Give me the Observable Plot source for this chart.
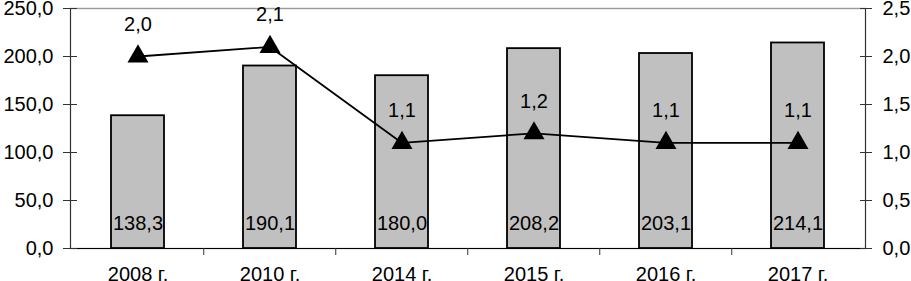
<!DOCTYPE html>
<html>
<head>
<meta charset="utf-8">
<script src="https://cdn.jsdelivr.net/npm/d3@7"></script>
<script src="https://cdn.jsdelivr.net/npm/@observablehq/plot@0.6"></script>
<style>
  html, body { margin: 0; padding: 0; background: #fff; }
  #chart svg { display: block; }
</style>
</head>
<body>
<div id="chart"></div>
<script>
const years = ["2008 г.", "2010 г.", "2014 г.", "2015 г.", "2016 г.", "2017 г."];
const barValues = [138.3, 190.1, 180.0, 208.2, 203.1, 214.1];
const lineValues = [2.0, 2.1, 1.1, 1.2, 1.1, 1.1];
const leftTicks = [0, 50, 100, 150, 200, 250];
const rightTicks = [0, 0.5, 1.0, 1.5, 2.0, 2.5];

const fmt = v => v.toFixed(1).replace(".", ",");
const data = years.map((y, i) => ({year: y, bar: barValues[i], line: lineValues[i]}));

const W = 911, H = 281;
const mL = 70, mR = 46, mT = 8, mB = 33;
const step = (W - mL - mR) / years.length;
const font = "Liberation Sans, Arial, sans-serif";
const fs = 20;

const chart = Plot.plot({
  width: W,
  height: H,
  marginLeft: mL,
  marginRight: mR,
  marginTop: mT,
  marginBottom: mB,
  style: {fontFamily: font, fontSize: fs + "px", color: "#000", background: "#fff"},
  x: {type: "band", domain: years, paddingInner: 0.6, paddingOuter: 0.3, label: null},
  y: {domain: [0, 250], label: null},
  marks: [
    Plot.barY(data, {x: "year", y: "bar", fill: "#c0c0c0", stroke: "#000", strokeWidth: 1.8}),
    Plot.frame({stroke: "#333", strokeWidth: 1.2}),
    Plot.ruleY([250], {stroke: "#999", strokeWidth: 1.2}),
    Plot.ruleY([0], {stroke: "#000", strokeWidth: 1.2}),
    Plot.ruleX(years.slice(1), {x: d => d, dx: -step / 2, y1: 0, y2: 0, insetBottom: -7, stroke: "#333"}),
    // left axis
    Plot.axisY(leftTicks, {anchor: "left", tickSize: 14, dx: 7, tickFormat: () => "", stroke: "#333"}),
    Plot.axisY(leftTicks, {anchor: "left", tickSize: 0, tickPadding: 17, tickFormat: d => fmt(d), fontSize: fs}),
    // right axis (secondary values scaled x100 onto the same y scale)
    Plot.axisY(rightTicks.map(v => v * 100), {anchor: "right", tickSize: 12, dx: -6, tickFormat: () => "", stroke: "#333"}),
    Plot.axisY(rightTicks.map(v => v * 100), {anchor: "right", tickSize: 0, tickPadding: 17, tickFormat: d => fmt(d / 100), fontSize: fs}),
    Plot.axisX({tickSize: 0, tickPadding: 18, fontSize: fs}),
    // line + triangles
    Plot.line(data, {x: "year", y: d => d.line * 100, stroke: "#000", strokeWidth: 1.8}),
    Plot.dot(data, {x: "year", y: d => d.line * 100, symbol: "triangle", r: 7.8, fill: "#000", stroke: "none"}),
    Plot.text(data, {x: "year", y: d => d.line * 100, text: d => fmt(d.line), dy: -32, fontSize: fs, fill: "#000"}),
    // bar values
    Plot.text(data, {x: "year", y: 0, text: d => fmt(d.bar), dy: -25, fontSize: fs, fill: "#000"})
  ]
});
document.getElementById("chart").appendChild(chart);
</script>
</body>
</html>
